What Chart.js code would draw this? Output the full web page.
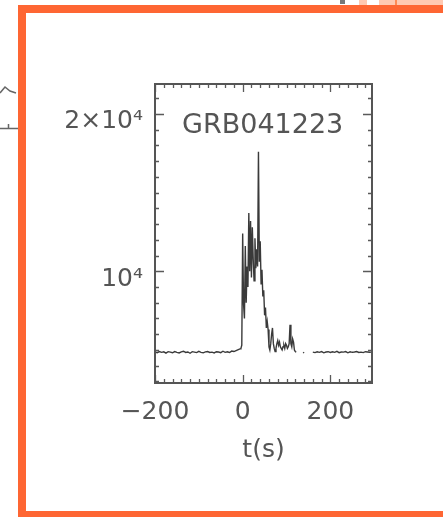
<!DOCTYPE html>
<html>
<head>
<meta charset="utf-8">
<script src="https://cdn.jsdelivr.net/npm/chart.js@4"></script>
<style>
  html, body { margin: 0; padding: 0; background: #fff; overflow: hidden; }
  #wrap { position: relative; width: 443px; height: 517px; }
  #c { position: absolute; left: 0; top: 0; }
  .frame { position: absolute; left: 18px; top: 5px; width: 600px; height: 514px;
           border: 8px solid #FE6633; box-sizing: border-box; pointer-events: none; }
  .peach { position: absolute; top: 0; height: 5px; background: #FFC9B2; }
</style>
</head>
<body>
<div id="wrap">
  <canvas id="c" width="443" height="517"></canvas>
  <div class="peach" style="left:359px;width:8px"></div>
  <div class="peach" style="left:379px;width:64px"></div>
  <div style="position:absolute;left:395px;top:0;width:2px;height:5px;background:#FE8A55"></div>
  <div style="position:absolute;left:340px;top:0;width:5px;height:4px;background:#777"></div>
  <div class="frame"></div>
</div>
<script>
// ---- data ----
const timeLeft = [-200,-195,-190,-185,-180,-175,-170,-165,-160,-155,
                  -150,-145,-140,-135,-130,-125,-120,-115,-110,-105,
                  -100,-95,-90,-85,-80,-75,-70,-65,-60,-55,
                  -50,-45,-40,-35,-30,-25,-20,-15,-10,-5];
const countsLeft = [4870,4830,4900,4850,4880,4800,4890,4860,4820,4900,
                    4850,4810,4880,4920,4840,4870,4790,4890,4860,4830,
                    4910,4850,4820,4880,4900,4840,4860,4810,4890,4870,
                    4830,4920,4850,4880,4840,4930,4900,4960,5020,5080];
const timeBurst = [-4,-2,0,2,4,6,8,10,12,14,16,18,20,22,24,26,28,30,32,34,
                   36,38,40,42,44,46,48,50,52,54,56,58,60,62,64,66,68,70,72,74,
                   76,78,80,82,84,86,88,90,92,94,96,98,100,102,104,106,108,110,112,114,
                   116,118,120,122,130,138,140,150];
const countsBurst = [5100,5300,12400,7900,7000,11600,8000,10300,9000,13700,10000,13200,9600,12800,10800,9400,12100,10200,11400,10300,
                     17600,10600,11900,9200,10100,8400,8800,7200,7700,6400,6800,6300,5200,5000,5400,6000,6400,5400,5100,4900,
                     5100,5400,5600,5300,5500,5200,5100,5000,5200,5300,5100,5400,5300,5100,5200,5400,6600,5400,5200,5700,
                     5500,5000,4900,4850,null,4850,4800,null];
const timeRight = [160,165,170,175,180,185,190,195,200,205,
                   210,215,220,225,230,235,240,245,250,255,
                   260,265,270,275,280,285,290,295];
const countsRight = [4860,4830,4880,4850,4900,4820,4870,4890,4840,4880,
                     4850,4910,4830,4870,4860,4900,4820,4880,4850,4870,
                     4900,4840,4860,4830,4890,4870,4850,4880];
const xTicks = [-200, 0, 200];
const yTicks = [10000, 20000];
const yTickLabels = {10000: '10\u2074', 20000: '2\u00d710\u2074'};
const xMinorStep = 20;
const yMinorStep = 1000;
const title = 'GRB041223';

const times = timeLeft.concat(timeBurst, timeRight);
const counts = countsLeft.concat(countsBurst, countsRight);
const points = times.map((t, i) => ({x: t, y: counts[i]}));

const TXT = '#555';
const FONT = 'DejaVu Sans';

const framePlugin = {
  id: 'frameTicks',
  afterDatasetsDraw(chart) {
    const {ctx, chartArea: a, scales: {x, y}} = chart;
    ctx.save();
    ctx.strokeStyle = '#5a5a5a';
    ctx.lineWidth = 1.3;
    // minor + major ticks, inward on all four sides
    for (let v = -200; v <= 295; v += xMinorStep) {
      const px = Math.round(x.getPixelForValue(v)) + 0.5;
      const major = xTicks.includes(v);
      const L = major ? 8 : 4;
      ctx.beginPath();
      ctx.moveTo(px, a.bottom); ctx.lineTo(px, a.bottom - L);
      ctx.moveTo(px, a.top); ctx.lineTo(px, a.top + L);
      ctx.stroke();
    }
    for (let v = 3000; v <= 21900; v += yMinorStep) {
      const py = Math.round(y.getPixelForValue(v)) + 0.5;
      const major = yTicks.includes(v);
      const L = major ? 9 : 4;
      ctx.beginPath();
      ctx.moveTo(a.left, py); ctx.lineTo(a.left + L, py);
      ctx.moveTo(a.right, py); ctx.lineTo(a.right - L, py);
      ctx.stroke();
    }
    ctx.lineWidth = 2;
    ctx.strokeStyle = '#555';
    ctx.strokeRect(a.left, a.top, a.right - a.left, a.bottom - a.top);
    // annotation
    ctx.fillStyle = TXT;
    ctx.font = '27px "' + FONT + '"';
    ctx.textAlign = 'left';
    ctx.textBaseline = 'alphabetic';
    ctx.fillText(title, a.left + 27, a.top + 49);
    // fragments of neighbouring panel (outside frame)
    ctx.strokeStyle = '#666';
    ctx.lineWidth = 1.5;
    ctx.beginPath();
    ctx.moveTo(0, 93); ctx.lineTo(5, 87); ctx.lineTo(10, 91); ctx.lineTo(16, 93);
    ctx.moveTo(0, 128.5); ctx.lineTo(18, 128.5);
    ctx.moveTo(8.5, 124); ctx.lineTo(8.5, 128.5);
    ctx.stroke();
    ctx.restore();
  }
};

new Chart(document.getElementById('c'), {
  type: 'line',
  data: {
    datasets: [{
      data: points,
      borderColor: '#3a3a3a',
      borderWidth: 1.4,
      pointRadius: 0,
      tension: 0,
      spanGaps: false,
      fill: false
    }]
  },
  options: {
    responsive: false,
    animation: false,
    events: [],
    layout: { padding: { left: 0, top: 84, right: 71, bottom: 0 } },
    plugins: { legend: { display: false }, tooltip: { enabled: false }, title: { display: false } },
    scales: {
      x: {
        type: 'linear',
        min: -200, max: 295,
        afterFit(s) { s.height = 134; },
        afterBuildTicks(s) { s.ticks = xTicks.map(v => ({value: v})); },
        grid: { display: false, drawTicks: false },
        border: { display: false },
        ticks: {
          color: TXT, font: { family: FONT, size: 25 }, padding: 14,
          maxRotation: 0, autoSkip: false,
          callback: v => (v < 0 ? '\u2212' + Math.abs(v) : String(v))
        },
        title: {
          display: true, text: 't(s)', color: TXT,
          font: { family: FONT, size: 25 }, padding: { top: 0, bottom: 52 }
        }
      },
      y: {
        type: 'linear',
        min: 2900, max: 21900,
        afterFit(s) { s.width = 155; },
        afterBuildTicks(s) { s.ticks = yTicks.map(v => ({value: v})); },
        grid: { display: false, drawTicks: false },
        border: { display: false },
        ticks: {
          color: TXT, font: { family: FONT, size: 25 }, padding: 12,
          labelOffset: 8, autoSkip: false,
          callback: v => yTickLabels[v]
        }
      }
    }
  },
  plugins: [framePlugin]
});
</script>
</body>
</html>
